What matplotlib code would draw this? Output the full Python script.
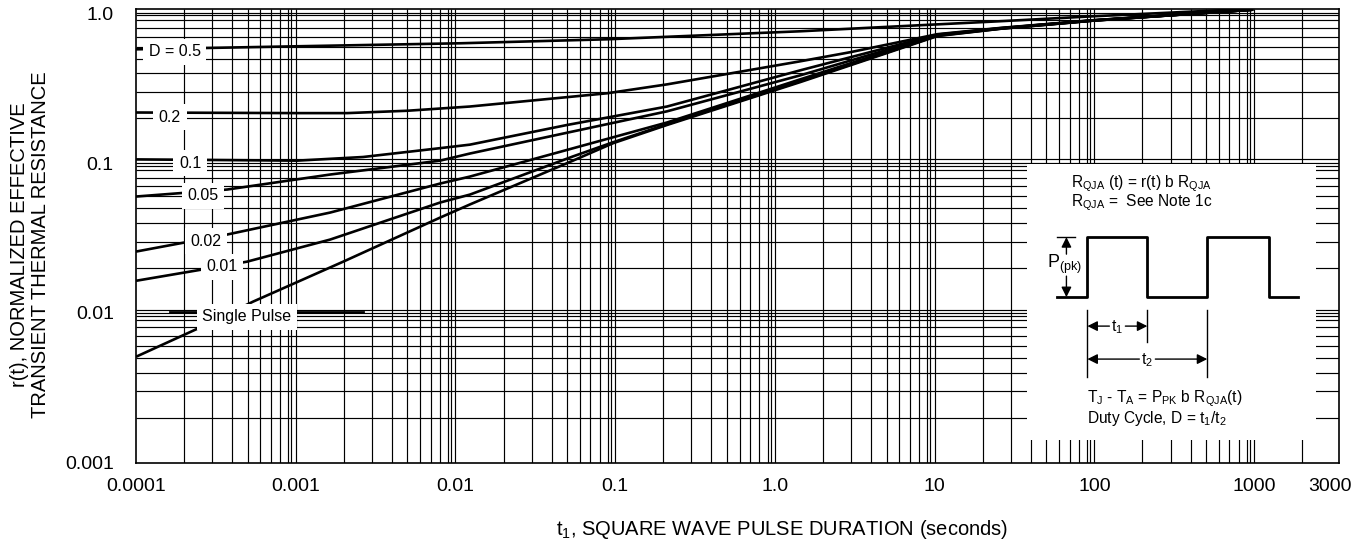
import numpy as np
import matplotlib.pyplot as plt

plt.rcParams['font.family'] = ['Liberation Sans', 'DejaVu Sans']
plt.rcParams['mathtext.default'] = 'regular'

# curve data (t1 in seconds, r(t))
d05_x = [1e-4, 1.06e-3, 0.0107, 0.089, 1.44, 4.56, 25.7, 98, 740]
d05_y = [0.576, 0.604, 0.632, 0.672, 0.76, 0.809, 0.887, 0.957, 1.06]

d02_x = [1e-4, 1.0e-3, 2.1e-3, 5.0e-3, 0.0123, 0.089, 0.211, 1.44, 2.96, 10.4, 25.7, 98, 986]
d02_y = [0.218, 0.216, 0.216, 0.224, 0.239, 0.293, 0.336, 0.479, 0.551, 0.727, 0.80, 0.90, 1.06]

d01_x = [1e-4, 1.02e-3, 2.64e-3, 8.0e-3, 0.0123, 0.05, 0.211, 1.44, 10.4, 25.7, 98, 986]
d01_y = [0.106, 0.104, 0.110, 0.126, 0.133, 0.18, 0.239, 0.417, 0.722, 0.797, 0.90, 1.06]

d005_x = [1e-4, 3.72e-4, 1.64e-3, 8.0e-3, 0.0123, 0.211, 1.44, 10.4, 25.7, 98, 986]
d005_y = [0.0599, 0.0667, 0.084, 0.104, 0.116, 0.222, 0.386, 0.718, 0.795, 0.898, 1.06]

d002_x = [1e-4, 3.72e-4, 1.64e-3, 8.0e-3, 0.0123, 0.211, 1.44, 10.4, 25.7, 98, 986]
d002_y = [0.0257, 0.0334, 0.0468, 0.0731, 0.0814, 0.187, 0.363, 0.714, 0.793, 0.896, 1.06]

d001_x = [1e-4, 2.52e-4, 4.95e-4, 1.64e-3, 8.0e-3, 0.0123, 0.0544, 0.097, 0.211, 1.44, 10.4, 25.7, 98, 986]
d001_y = [0.0164, 0.0194, 0.022, 0.0309, 0.0546, 0.0617, 0.111, 0.138, 0.182, 0.352, 0.71, 0.79, 0.895, 1.06]

single_x = [1e-4, 2.52e-4, 5.4e-4, 1.98e-3, 8.0e-3, 0.0123, 0.0544, 0.097, 0.211, 1.44, 10.4, 25.7, 98, 986]
single_y = [0.0051, 0.008, 0.0119, 0.022, 0.0433, 0.053, 0.104, 0.136, 0.18, 0.348, 0.706, 0.79, 0.895, 1.06]

curve_labels = ["D = 0.5", "0.2", "0.1", "0.05", "0.02", "0.01", "Single Pulse"]
label_x = [1.75e-4, 1.63e-4, 2.18e-4, 2.63e-4, 2.74e-4, 3.46e-4, 4.93e-4]
label_y = [0.555, 0.203, 0.1, 0.0604, 0.0302, 0.0203, 0.0094]

xticks = [1e-4, 1e-3, 1e-2, 0.1, 1.0, 10, 100, 1000, 3000]
xtick_labels = ["0.0001", "0.001", "0.01", "0.1", "1.0", "10", "100", "1000", "3000"]
yticks = [0.001, 0.01, 0.1, 1.0]
ytick_labels = ["0.001", "0.01", "0.1", "1.0"]

fig = plt.figure(figsize=(13.7, 5.44), dpi=100)
ax = fig.add_axes([0.0993, 0.1494, 0.8781, 0.834])
ax.set_xscale('log')
ax.set_yscale('log')
ax.set_xlim(1e-4, 3400)
ax.set_ylim(1e-3, 1.07)

# grid (drawn by hand, the datasheet grid has doubled decade lines)
gx = [m * 10.0 ** e for e in range(-4, 4) for m in range(1, 10)]
gx = [v for v in gx if 1e-4 < v < 3400 and v != 3000]
gx += [0.94 * 10.0 ** e for e in range(-3, 4)]
gy = [m * 10.0 ** e for e in range(-3, 0) for m in range(1, 10)] + [1.0]
gy = [v for v in gy if 1e-3 < v < 1.07]
gy += [0.0095, 0.0105, 0.0955, 0.106, 0.97]
ax.vlines(gx, 0, 1, transform=ax.get_xaxis_transform(), color='k', lw=0.85, zorder=1)
ax.hlines(gy, 0, 1, transform=ax.get_yaxis_transform(), color='k', lw=0.85, zorder=1)

for xs, ys in [(d05_x, d05_y), (d02_x, d02_y), (d01_x, d01_y), (d005_x, d005_y),
               (d002_x, d002_y), (d001_x, d001_y), (single_x, single_y)]:
    ax.plot(xs, ys, color='k', lw=1.9, zorder=3, solid_capstyle='butt')

# leader line behind the "Single Pulse" label
ax.plot([1.63e-4, 2.64e-3], [0.0101, 0.0101], color='k', lw=2.0, zorder=3)

for txt, lx, ly in zip(curve_labels, label_x, label_y):
    ax.text(lx, ly, txt, fontsize=11.5, ha='center', va='center', zorder=6,
            bbox=dict(facecolor='white', edgecolor='none', pad=4))

ax.set_xticks(xticks)
ax.set_xticklabels(xtick_labels)
ax.set_yticks(yticks)
ax.set_yticklabels(ytick_labels)
ax.xaxis.set_minor_locator(plt.NullLocator())
ax.yaxis.set_minor_locator(plt.NullLocator())
ax.tick_params(axis='both', which='both', length=0, labelsize=14)
ax.tick_params(axis='x', pad=11)
ax.tick_params(axis='y', pad=16)
for s in ax.spines.values():
    s.set_linewidth(1.2)

ax.set_xlabel("t$_1$, SQUARE WAVE PULSE DURATION (seconds)", fontsize=14.5)
ax.xaxis.label.set_va('center')
ax.xaxis.set_label_coords(0.537, -0.148)
ax.set_ylabel("r(t), NORMALIZED EFFECTIVE\nTRANSIENT THERMAL RESISTANCE", fontsize=14.5,
              linespacing=1.1)
ax.yaxis.label.set_va('center')
ax.yaxis.set_label_coords(-0.088, 0.48)

# inset diagram, local coordinates in pixels from its top-left corner
ins = ax.inset_axes([0.741, 0.050, 0.240, 0.608])
ins.set_xlim(0, 289)
ins.set_ylim(276, 0)
ins.set_xticks([])
ins.set_yticks([])
for s in ins.spines.values():
    s.set_visible(False)
ins.set_facecolor('white')

fs = 11.2
ins.text(44, 20, "R$_{QJA}$ (t) = r(t) b R$_{QJA}$", fontsize=fs, va='center')
ins.text(44, 39, "R$_{QJA}$ =  See Note 1c", fontsize=fs, va='center')
ins.plot([30, 60, 60, 120, 120, 180, 180, 242, 242, 271],
         [133, 133, 73, 73, 133, 133, 73, 73, 133, 133], color='k', lw=2.0)
ins.plot([30, 48], [73, 73], color='k', lw=1.0)
ap = dict(arrowstyle='-|>', color='k', lw=1.0, mutation_scale=15, shrinkA=0, shrinkB=0)
ins.annotate("", xy=(39, 73), xytext=(39, 90), arrowprops=ap)
ins.annotate("", xy=(39, 133), xytext=(39, 112), arrowprops=ap)
ins.text(37, 100, "P$_{(pk)}$", fontsize=13, ha='center', va='center')
ins.plot([60, 60], [146, 213], color='k', lw=1.0)
ins.plot([120, 120], [146, 178], color='k', lw=1.0)
ins.plot([180, 180], [146, 213], color='k', lw=1.0)
ins.annotate("", xy=(60, 162), xytext=(82, 162), arrowprops=ap)
ins.annotate("", xy=(120, 162), xytext=(98, 162), arrowprops=ap)
ins.text(90, 163, "t$_1$", fontsize=fs, ha='center', va='center')
ins.annotate("", xy=(60, 195), xytext=(112, 195), arrowprops=ap)
ins.annotate("", xy=(180, 195), xytext=(128, 195), arrowprops=ap)
ins.text(120, 196, "t$_2$", fontsize=fs, ha='center', va='center')
ins.text(60, 235, "T$_J$ - T$_A$ = P$_{PK}$ b R$_{QJA}$(t)", fontsize=fs, va='center')
ins.text(60, 254, "Duty Cycle, D = t$_1$/t$_2$", fontsize=fs, va='center')

fig.savefig("out.png", dpi=100)
